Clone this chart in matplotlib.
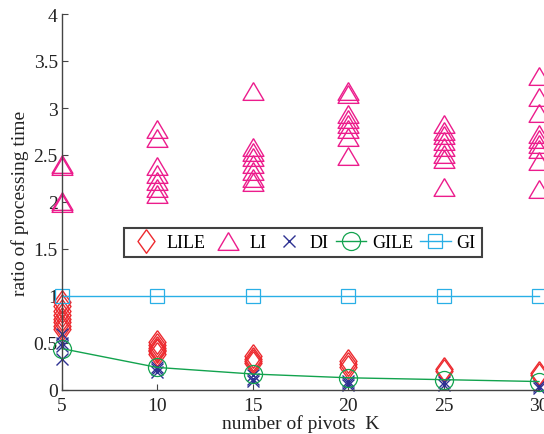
import matplotlib
matplotlib.use("Agg")
import matplotlib.pyplot as plt
import numpy as np

plt.rcParams['font.family'] = ['Liberation Serif', 'DejaVu Serif']

# number of pivots
k = [5, 10, 15, 20, 25, 30]

# per-run ratios for each K
lile = [[0.94, 0.89, 0.84, 0.80, 0.76, 0.72, 0.68, 0.65],
        [0.51, 0.48, 0.45, 0.43, 0.41, 0.38],
        [0.36, 0.33, 0.31, 0.29],
        [0.31, 0.28, 0.25],
        [0.22, 0.20],
        [0.18, 0.16]]
li = [[2.40, 2.38, 2.01, 1.99],
      [2.78, 2.68, 2.38, 2.30, 2.22, 2.15, 2.08],
      [3.18, 2.59, 2.53, 2.48, 2.40, 2.33, 2.26, 2.21],
      [3.18, 3.15, 2.94, 2.88, 2.83, 2.78, 2.69, 2.49],
      [2.83, 2.76, 2.71, 2.65, 2.58, 2.51, 2.46, 2.16],
      [3.34, 3.12, 2.95, 2.72, 2.67, 2.62, 2.56, 2.44, 2.14]]
di = [[0.60, 0.50, 0.47, 0.33],
      [0.25, 0.22, 0.19],
      [0.16, 0.12, 0.10],
      [0.10, 0.07, 0.05],
      [0.08, 0.05],
      [0.04, 0.02]]
gile = [0.44, 0.24, 0.17, 0.13, 0.11, 0.09]
gi = [1.0, 1.0, 1.0, 1.0, 1.0, 1.0]

c_lile = '#ed2a2f'
c_li = '#ec1c8c'
c_di = '#2e3192'
c_gile = '#12a34e'
c_gi = '#29afe6'

diamond = [(0, 1), (0.72, 0), (0, -1), (-0.72, 0), (0, 1)]
triangle = [(0, 0.85), (1, -0.85), (-1, -0.85), (0, 0.85)]


def spread(groups):
    xs, ys = [], []
    for x, vals in zip(k, groups):
        xs += [x] * len(vals)
        ys += vals
    return xs, ys


fig = plt.figure(figsize=(5.44, 4.35), dpi=100)
ax = fig.add_axes([62 / 544, 1 - 391 / 435, 477 / 544, 376 / 435])

x, y = spread(lile)
ax.plot(x, y, ls='none', marker=diamond, ms=17, mfc='none', mec=c_lile,
        mew=1.0, clip_on=False, label='LILE')
x, y = spread(li)
ax.plot(x, y, ls='none', marker=triangle, ms=15, mfc='none', mec=c_li,
        mew=1.0, clip_on=False, label='LI')
x, y = spread(di)
ax.plot(x, y, ls='none', marker='x', ms=9, mec=c_di, mew=1.0,
        clip_on=False, label='DI')
ax.plot(k, gile, color=c_gile, lw=1.0, marker='o', ms=13, mfc='none',
        mec=c_gile, mew=0.9, clip_on=False, label='GILE')
ax.plot(k, gi, color=c_gi, lw=1.0, marker='s', ms=10, mfc='none',
        mec=c_gi, mew=0.9, clip_on=False, label='GI')

ax.set_xlim(5, 30)
ax.set_ylim(0, 4)
ax.set_xticks(k)
ax.set_yticks(np.arange(0, 4.01, 0.5))
ax.set_yticklabels(['0', '0.5', '1', '1.5', '2', '2.5', '3', '3.5', '4'])
ax.spines['top'].set_visible(False)
ax.spines['right'].set_visible(False)
for s in ('left', 'bottom'):
    ax.spines[s].set_color('#444444')
    ax.spines[s].set_linewidth(1.0)
ax.tick_params(direction='in', length=4, width=0.8, color='#444444',
               labelsize=14, labelcolor='#222222')
ax.tick_params(axis='x', pad=5)
ax.tick_params(axis='y', pad=3)

ax.set_xlabel('number of pivots  K', fontsize=14, color='#222222',
              labelpad=0)
ax.set_ylabel('ratio of processing time', fontsize=14, color='#222222',
              labelpad=3)

leg = ax.legend(loc='center', bbox_to_anchor=(303 / 544, 1 - 243.5 / 435),
                bbox_transform=fig.transFigure, ncol=5, fontsize=13,
                frameon=True, fancybox=False, handlelength=1.7,
                handletextpad=0.3, columnspacing=0.4, borderpad=0.35,
                borderaxespad=0)
leg.get_frame().set_edgecolor('#111111')
leg.get_frame().set_linewidth(1.5)

fig.savefig('out.png', dpi=100)
